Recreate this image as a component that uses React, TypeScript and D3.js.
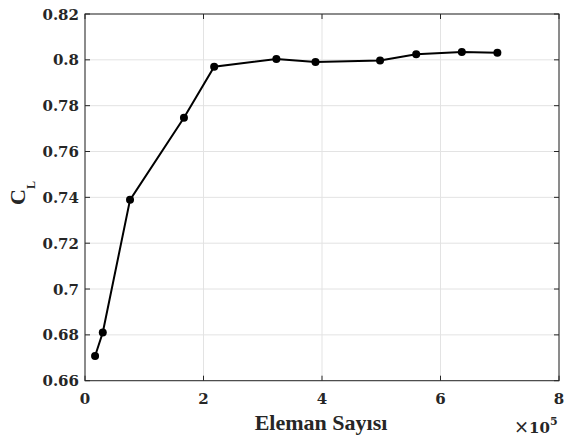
import React from "react";
import * as d3 from "d3";

const xValues = [0.17, 0.3, 0.76, 1.67, 2.18, 3.23, 3.89, 4.98, 5.59, 6.36, 6.96];
const yValues = [0.6708, 0.681, 0.7389, 0.7747, 0.797, 0.8004, 0.7991, 0.7997, 0.8024, 0.8034, 0.8031];
const xTicks = [0, 2, 4, 6, 8];
const yTicks = [0.66, 0.68, 0.7, 0.72, 0.74, 0.76, 0.78, 0.8, 0.82];
const xLabel = "Eleman Sayısı";

const W = 565, H = 439;
const L = 85, R = 559, T = 14, B = 380.7;
const FONT = "'DejaVu Serif', serif";
const LFONT = "'Liberation Serif', serif";

export default function App() {
  const x = d3.scaleLinear().domain([0, 8]).range([L, R]);
  const y = d3.scaleLinear().domain([0.66, 0.82]).range([B, T]);
  const line = d3.line<number>().x((_, i) => x(xValues[i])).y((d) => y(d));
  const axisCol = "#262626";
  const tl = 5;
  return (
    <svg width={W} height={H} style={{ position: "absolute", left: 0, top: 0, background: "#fff" }}>
      <rect x={0} y={0} width={W} height={H} fill="#fff" />
      {xTicks.map((t) => (
        <line key={"gx" + t} x1={x(t)} x2={x(t)} y1={T} y2={B} stroke="#e3e3e3" strokeWidth={1} />
      ))}
      {yTicks.map((t) => (
        <line key={"gy" + t} x1={L} x2={R} y1={y(t)} y2={y(t)} stroke="#e3e3e3" strokeWidth={1} />
      ))}
      {xTicks.map((t) => (
        <g key={"tx" + t}>
          <line x1={x(t)} x2={x(t)} y1={B} y2={B - tl} stroke={axisCol} strokeWidth={1} />
          <line x1={x(t)} x2={x(t)} y1={T} y2={T + tl} stroke={axisCol} strokeWidth={1} />
          <text x={x(t)} y={403.5} textAnchor="middle" fontFamily={FONT} fontWeight="bold" fontSize={15} fill={axisCol}>
            {t}
          </text>
        </g>
      ))}
      {yTicks.map((t) => (
        <g key={"ty" + t}>
          <line x1={L} x2={L + tl} y1={y(t)} y2={y(t)} stroke={axisCol} strokeWidth={1} />
          <line x1={R} x2={R - tl} y1={y(t)} y2={y(t)} stroke={axisCol} strokeWidth={1} />
          <text x={L - 6} y={y(t) + 5.5} textAnchor="end" fontFamily={FONT} fontWeight="bold" fontSize={15} fill={axisCol}>
            {d3.format("")(+t.toFixed(2))}
          </text>
        </g>
      ))}
      <rect x={L} y={T} width={R - L} height={B - T} fill="none" stroke={axisCol} strokeWidth={1} />
      <path d={line(yValues) || ""} fill="none" stroke="#000" strokeWidth={2} />
      {yValues.map((v, i) => (
        <circle key={"p" + i} cx={x(xValues[i])} cy={y(v)} r={4} fill="#000" />
      ))}
      <text x={321} y={430} textAnchor="middle" fontFamily={LFONT} fontWeight="bold" fontSize={22} fill={axisCol}>
        {xLabel}
      </text>
      <text x={514} y={433.3} fontFamily={FONT} fontWeight="bold" fontSize={15} fill={axisCol}>
        <tspan fontWeight="normal" fontSize={18}>×</tspan>10
        <tspan dy={-8} fontSize={11}>5</tspan>
      </text>
      <text transform={`translate(25, 193) rotate(-90)`} textAnchor="middle" fontFamily={LFONT} fontWeight="bold" fontSize={22} fill={axisCol}>
        C<tspan dy={10} fontSize={12}>L</tspan>
      </text>
    </svg>
  );
}
